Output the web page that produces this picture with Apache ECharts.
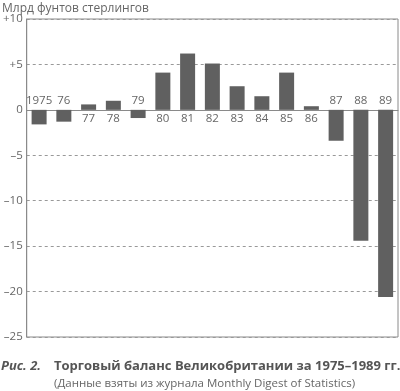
<!DOCTYPE html>
<html><head><meta charset="utf-8">
<script src="https://cdn.jsdelivr.net/npm/echarts@6/dist/echarts.min.js"></script>
<style>html,body{margin:0;padding:0;background:#fff}#c{width:400px;height:391px}</style>
</head><body><div id="c"></div>
<script>
const categories = ['1975','76','77','78','79','80','81','82','83','84','85','86','87','88','89'];
const balance = [-1.6,-1.3,0.6,1.0,-0.9,4.1,6.2,5.1,2.6,1.5,4.1,0.4,-3.4,-14.4,-20.6];
const yTicks = {min:-25, max:10, step:5};
const unitTitle = 'Млрд фунтов стерлингов';
const figLabel = 'Рис. 2.';
const captionMain = 'Торговый баланс Великобритании за 1975–1989 гг.';
const captionSub = '(Данные взяты из журнала Monthly Digest of Statistics)';

const FONT = '"Open Sans", "Noto Sans", sans-serif';
const chart = echarts.init(document.getElementById('c'), null, {renderer:'canvas'});
chart.setOption({
  animation:false,
  textStyle:{fontFamily:FONT},
  grid:{left:24, right:2, top:19, bottom:54, show:true, borderColor:'#8a8a8a', borderWidth:1, backgroundColor:'transparent'},
  xAxis:{type:'category', data:categories, axisTick:{show:false}, axisLabel:{show:false},
    axisLine:{lineStyle:{color:'#8a8a8a', width:1}}},
  yAxis:{type:'value', min:yTicks.min, max:yTicks.max, interval:yTicks.step,
    axisLine:{show:true, lineStyle:{color:'#8a8a8a'}}, axisTick:{show:false},
    axisLabel:{color:'#666', fontSize:11.5, fontFamily:FONT, margin:4,
      formatter:v=> v>0 ? '+'+v : (v<0 ? '–'+Math.abs(v) : '0')},
    splitLine:{show:true, lineStyle:{color:'#999', type:[3,3], width:1}}},
  series:[{type:'bar', barWidth:15, itemStyle:{color:'#606060'},
    data: balance.map((v,i)=>({value:v, label:{show:true, position: v>=0 ? 'bottom':'top', distance:3,
      formatter: categories[i], color:'#666', fontSize:11.5, fontFamily:FONT}}))}],
  graphic:[
    {type:'text', x:2, y:15, style:{text:unitTitle, fill:'#666', font:'12px '+FONT, verticalAlign:'bottom'}},
    {type:'text', x:1, y:373, style:{text:figLabel, fill:'#555', font:'italic bold 13px '+FONT, verticalAlign:'bottom'}},
    {type:'text', x:54, y:373, style:{text:captionMain, fill:'#555', font:'bold 13px '+FONT, verticalAlign:'bottom'}},
    {type:'text', x:54, y:390, style:{text:captionSub, fill:'#666', font:'11.5px '+FONT, verticalAlign:'bottom'}}
  ]
});
</script></body></html>
